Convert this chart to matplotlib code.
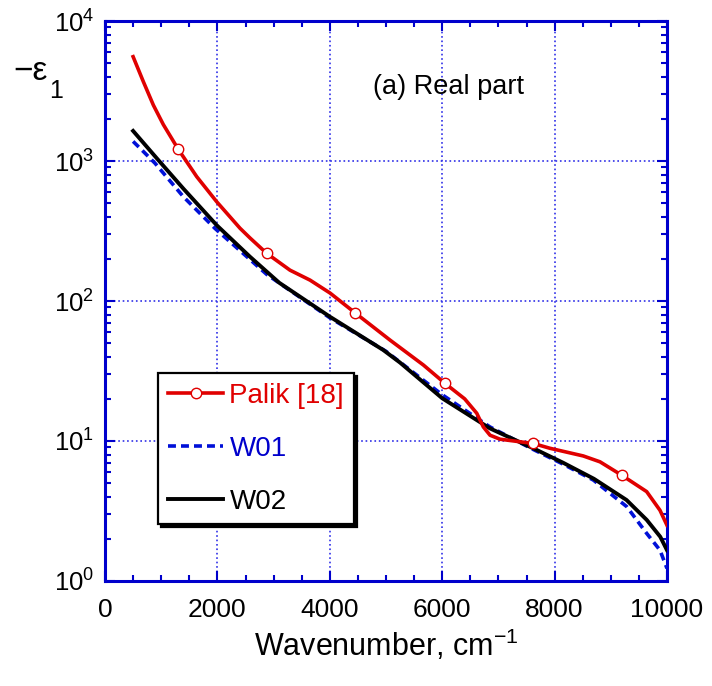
import numpy as np
import matplotlib
matplotlib.use("Agg")
import matplotlib.pyplot as plt
from matplotlib.ticker import FixedLocator, LogLocator, NullFormatter

plt.rcParams['font.family'] = ['Liberation Sans', 'DejaVu Sans']
plt.rcParams['mathtext.fontset'] = 'custom'
plt.rcParams['mathtext.rm'] = 'Liberation Sans'
plt.rcParams['mathtext.it'] = 'Liberation Sans:italic'
plt.rcParams['mathtext.bf'] = 'Liberation Sans:bold'

# -eps1 vs wavenumber (cm^-1)
palik_w = [500, 682, 860, 1038, 1305, 1632, 1987, 2402, 2580, 2877, 3292, 3648,
           4004, 4448, 5071, 5665, 6050, 6400, 6614, 6732, 6851, 7028, 7621,
           7918, 8510, 8808, 9193, 9638, 9875, 10000]
palik_e = [5560, 3690, 2510, 1820, 1210, 773, 512, 331, 282, 219, 166, 141,
           114, 82.4, 52.6, 34.9, 25.8, 20.0, 15.8, 12.6, 11.0, 10.3, 9.6,
           8.87, 7.82, 7.1, 5.7, 4.35, 3.2, 2.5]
palik_marks = [4, 9, 13, 16, 22, 26]

w01_w = [500, 700, 890, 1394, 1957, 2877, 4000, 5000, 6000, 6850, 7620, 8150,
         8690, 9283, 9638, 9875, 10000]
w01_e = [1380, 1150, 964, 556, 330, 155, 75.9, 43.7, 21.4, 12.6, 8.7, 6.84,
         5.26, 3.40, 2.19, 1.66, 1.23]

w02_w = [500, 920, 1400, 1990, 2580, 3100, 4000, 4950, 5250, 6000, 6850, 7620,
         8150, 8700, 9280, 9640, 9880, 10000]
w02_e = [1640, 1047, 631, 347, 207, 135, 77.3, 44.7, 36.3, 20.2, 12.3, 8.87,
         7.0, 5.37, 3.79, 2.73, 2.07, 1.66]

axcol = '#0000cc'
red = '#e00000'

fig = plt.figure(figsize=(7.12, 6.86), dpi=100)
ax = fig.add_axes([105/712, 1 - 581/686, 562/712, 560/686])

l1, = ax.plot(palik_w, palik_e, color=red, lw=2.6, marker='o', markevery=palik_marks,
              ms=7.5, mfc='white', mec=red, mew=1.0, label='Palik [18]', zorder=5)
l2, = ax.plot(w01_w, w01_e, color='#0010d8', lw=2.6, ls=(0, (2.2, 1.4)),
              label='W01', zorder=3)
l3, = ax.plot(w02_w, w02_e, color='black', lw=2.8, label='W02', zorder=4)

ax.set_yscale('log')
ax.set_xlim(0, 10000)
ax.set_ylim(1, 1e4)
ax.set_xticks([0, 2000, 4000, 6000, 8000, 10000])
ax.xaxis.set_minor_locator(FixedLocator(np.arange(0, 10001, 500)))
ax.yaxis.set_major_locator(FixedLocator([1, 10, 100, 1000, 10000]))
ax.yaxis.set_minor_locator(LogLocator(base=10, subs=np.arange(2, 10)))
ax.yaxis.set_minor_formatter(NullFormatter())
ax.set_yticklabels([r'$\mathregular{10^{%d}}$' % k for k in range(5)])

ax.grid(True, which='major', color='#3030e8', ls=':', lw=1.2)
for s in ax.spines.values():
    s.set_color(axcol)
    s.set_linewidth(2.2)
ax.tick_params(which='both', direction='in', top=True, right=True,
               color=axcol, width=1.5)
ax.tick_params(which='major', length=7)
ax.tick_params(which='minor', length=4.5)
ax.tick_params(axis='x', pad=12, labelsize=19)
ax.tick_params(axis='y', pad=8, labelsize=18.5)

ax.set_xlabel(r'Wavenumber, cm$^{\mathregular{-1}}$', fontsize=22, labelpad=4)
fig.text(13/712, 1 - 72/686, '\u2212\u03b5', fontsize=24, ha='left', va='center')
fig.text(49/712, 1 - 91/686, '1', fontsize=18, ha='left', va='center')

ax.text(0.476, 0.882, '(a) Real part', transform=ax.transAxes, fontsize=19.5,
        ha='left', va='center')

leg = ax.legend(handles=[l1, l2, l3], loc='upper left',
                bbox_to_anchor=((158 - 105)/562, 1 - (373 - 21)/560),
                borderaxespad=0, fontsize=20, handlelength=2.0,
                handletextpad=0.22, labelspacing=0.97, borderpad=0.35,
                fancybox=False, framealpha=1, edgecolor='black',
                labelcolor=[red, '#0000cc', 'black'],
                shadow={'color': 'black', 'alpha': 1.0})
leg.get_frame().set_linewidth(1.6)

fig.savefig('out.png', dpi=100)
